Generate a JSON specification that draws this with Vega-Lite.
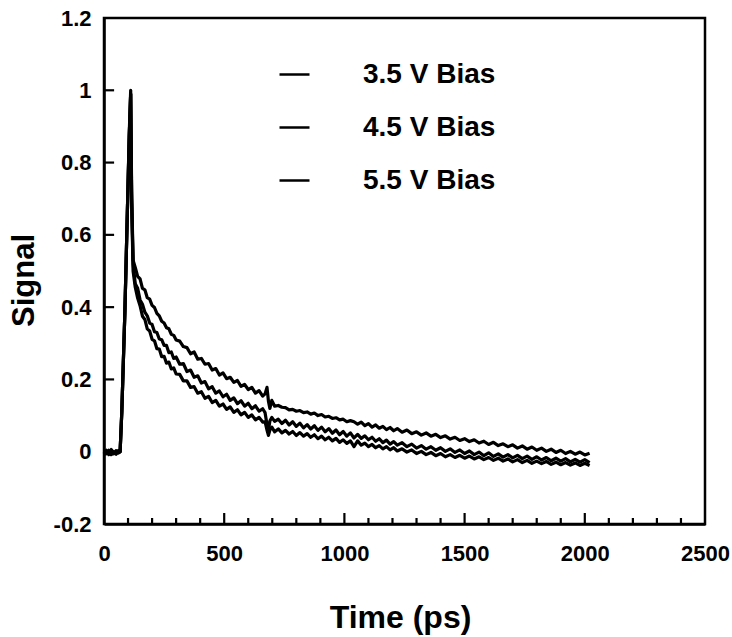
{
  "$schema": "https://vega.github.io/schema/vega-lite/v6.json",
  "width": 601,
  "height": 506,
  "autosize": {"type": "none"},
  "padding": {"left": 104, "top": 18, "right": 27, "bottom": 113},
  "background": "white",
  "config": {
    "font": "Liberation Sans",
    "view": {"stroke": "black", "strokeWidth": 2.5},
    "legend": {"padding": 0}
  },
  "data": {"values": [
    {"t":0,"a":-0.004,"b":-0.008,"c":0.002},
    {"t":10,"a":0.004,"b":0.0,"c":-0.006},
    {"t":20,"a":-0.008,"b":-0.004,"c":0.004},
    {"t":30,"a":0.002,"b":0.006,"c":-0.008},
    {"t":40,"a":-0.006,"b":-0.002,"c":0.0},
    {"t":50,"a":0.003,"b":-0.007,"c":-0.004},
    {"t":60,"a":-0.004,"b":0.002,"c":0.003},
    {"t":67,"a":0.0,"b":0.0,"c":0.0},
    {"t":74,"a":0.11,"b":0.11,"c":0.11},
    {"t":87,"a":0.39,"b":0.39,"c":0.39},
    {"t":97,"a":0.66,"b":0.66,"c":0.66},
    {"t":105,"a":0.88,"b":0.87,"c":0.87},
    {"t":111,"a":1.0,"b":0.99,"c":0.99},
    {"t":115,"a":0.72,"b":0.70,"c":0.69},
    {"t":121,"a":0.53,"b":0.52,"c":0.50},
    {"t":130,"a":0.51,"b":0.465,"c":0.455},
    {"t":140,"a":0.485,"b":0.452,"c":0.425},
    {"t":150,"a":0.478,"b":0.42,"c":0.404},
    {"t":160,"a":0.452,"b":0.408,"c":0.375},
    {"t":170,"a":0.448,"b":0.386,"c":0.366},
    {"t":180,"a":0.426,"b":0.376,"c":0.34},
    {"t":190,"a":0.422,"b":0.356,"c":0.334},
    {"t":200,"a":0.405,"b":0.352,"c":0.311},
    {"t":210,"a":0.399,"b":0.332,"c":0.307},
    {"t":220,"a":0.383,"b":0.33,"c":0.285},
    {"t":230,"a":0.376,"b":0.312,"c":0.284},
    {"t":240,"a":0.361,"b":0.31,"c":0.263},
    {"t":250,"a":0.356,"b":0.294,"c":0.264},
    {"t":260,"a":0.343,"b":0.294,"c":0.245},
    {"t":270,"a":0.34,"b":0.274,"c":0.248},
    {"t":280,"a":0.325,"b":0.276,"c":0.229},
    {"t":290,"a":0.322,"b":0.258,"c":0.232},
    {"t":300,"a":0.309,"b":0.262,"c":0.215},
    {"t":315,"a":0.306,"b":0.242,"c":0.214},
    {"t":330,"a":0.291,"b":0.244,"c":0.196},
    {"t":345,"a":0.288,"b":0.222,"c":0.196},
    {"t":360,"a":0.271,"b":0.226,"c":0.178},
    {"t":375,"a":0.276,"b":0.206,"c":0.18},
    {"t":390,"a":0.256,"b":0.21,"c":0.162},
    {"t":405,"a":0.258,"b":0.19,"c":0.166},
    {"t":420,"a":0.242,"b":0.194,"c":0.148},
    {"t":435,"a":0.244,"b":0.174,"c":0.153},
    {"t":450,"a":0.226,"b":0.18,"c":0.136},
    {"t":465,"a":0.23,"b":0.162,"c":0.142},
    {"t":480,"a":0.212,"b":0.168,"c":0.126},
    {"t":495,"a":0.218,"b":0.152,"c":0.132},
    {"t":510,"a":0.202,"b":0.159,"c":0.117},
    {"t":525,"a":0.206,"b":0.142,"c":0.124},
    {"t":540,"a":0.192,"b":0.149,"c":0.109},
    {"t":555,"a":0.197,"b":0.133,"c":0.116},
    {"t":570,"a":0.181,"b":0.141,"c":0.102},
    {"t":585,"a":0.186,"b":0.126,"c":0.109},
    {"t":600,"a":0.172,"b":0.134,"c":0.095},
    {"t":615,"a":0.178,"b":0.119,"c":0.102},
    {"t":630,"a":0.162,"b":0.127,"c":0.088},
    {"t":645,"a":0.169,"b":0.112,"c":0.095},
    {"t":660,"a":0.154,"b":0.119,"c":0.082},
    {"t":670,"a":0.16,"b":0.108,"c":0.083},
    {"t":678,"a":0.178,"b":0.075,"c":0.06},
    {"t":684,"a":0.14,"b":0.058,"c":0.045},
    {"t":690,"a":0.12,"b":0.085,"c":0.06},
    {"t":698,"a":0.142,"b":0.095,"c":0.068},
    {"t":710,"a":0.126,"b":0.084,"c":0.055},
    {"t":725,"a":0.128,"b":0.09,"c":0.063},
    {"t":740,"a":0.123,"b":0.078,"c":0.052},
    {"t":755,"a":0.122,"b":0.087,"c":0.059},
    {"t":770,"a":0.116,"b":0.074,"c":0.049},
    {"t":785,"a":0.117,"b":0.083,"c":0.056},
    {"t":800,"a":0.112,"b":0.07,"c":0.045},
    {"t":815,"a":0.114,"b":0.079,"c":0.053},
    {"t":830,"a":0.108,"b":0.066,"c":0.043},
    {"t":845,"a":0.11,"b":0.075,"c":0.05},
    {"t":860,"a":0.104,"b":0.063,"c":0.04},
    {"t":875,"a":0.107,"b":0.072,"c":0.047},
    {"t":890,"a":0.1,"b":0.059,"c":0.036},
    {"t":905,"a":0.103,"b":0.068,"c":0.043},
    {"t":920,"a":0.096,"b":0.055,"c":0.033},
    {"t":935,"a":0.098,"b":0.064,"c":0.04},
    {"t":950,"a":0.092,"b":0.051,"c":0.03},
    {"t":965,"a":0.094,"b":0.06,"c":0.037},
    {"t":980,"a":0.088,"b":0.047,"c":0.026},
    {"t":995,"a":0.09,"b":0.056,"c":0.033},
    {"t":1010,"a":0.083,"b":0.043,"c":0.023},
    {"t":1025,"a":0.086,"b":0.052,"c":0.03},
    {"t":1040,"a":0.083,"b":0.038,"c":0.014},
    {"t":1055,"a":0.076,"b":0.048,"c":0.03},
    {"t":1070,"a":0.082,"b":0.037,"c":0.018},
    {"t":1085,"a":0.072,"b":0.044,"c":0.024},
    {"t":1100,"a":0.078,"b":0.033,"c":0.014},
    {"t":1115,"a":0.068,"b":0.04,"c":0.02},
    {"t":1130,"a":0.074,"b":0.029,"c":0.011},
    {"t":1145,"a":0.065,"b":0.036,"c":0.017},
    {"t":1160,"a":0.07,"b":0.025,"c":0.008},
    {"t":1175,"a":0.061,"b":0.032,"c":0.014},
    {"t":1190,"a":0.067,"b":0.021,"c":0.005},
    {"t":1205,"a":0.058,"b":0.028,"c":0.011},
    {"t":1220,"a":0.064,"b":0.018,"c":0.002},
    {"t":1240,"a":0.054,"b":0.025,"c":0.008},
    {"t":1260,"a":0.06,"b":0.014,"c":-0.001},
    {"t":1280,"a":0.05,"b":0.021,"c":0.005},
    {"t":1300,"a":0.055,"b":0.01,"c":-0.005},
    {"t":1320,"a":0.046,"b":0.017,"c":0.001},
    {"t":1340,"a":0.052,"b":0.007,"c":-0.008},
    {"t":1360,"a":0.043,"b":0.014,"c":-0.002},
    {"t":1380,"a":0.048,"b":0.004,"c":-0.011},
    {"t":1400,"a":0.039,"b":0.011,"c":-0.005},
    {"t":1420,"a":0.044,"b":0.001,"c":-0.014},
    {"t":1440,"a":0.035,"b":0.008,"c":-0.008},
    {"t":1460,"a":0.04,"b":-0.002,"c":-0.016},
    {"t":1480,"a":0.031,"b":0.005,"c":-0.01},
    {"t":1500,"a":0.036,"b":-0.005,"c":-0.018},
    {"t":1520,"a":0.028,"b":0.002,"c":-0.012},
    {"t":1540,"a":0.033,"b":-0.008,"c":-0.02},
    {"t":1560,"a":0.024,"b":-0.001,"c":-0.014},
    {"t":1580,"a":0.029,"b":-0.011,"c":-0.022},
    {"t":1600,"a":0.02,"b":-0.003,"c":-0.016},
    {"t":1620,"a":0.026,"b":-0.013,"c":-0.024},
    {"t":1640,"a":0.017,"b":-0.006,"c":-0.018},
    {"t":1660,"a":0.022,"b":-0.015,"c":-0.026},
    {"t":1680,"a":0.014,"b":-0.008,"c":-0.02},
    {"t":1700,"a":0.019,"b":-0.017,"c":-0.028},
    {"t":1720,"a":0.01,"b":-0.01,"c":-0.022},
    {"t":1740,"a":0.016,"b":-0.019,"c":-0.03},
    {"t":1760,"a":0.007,"b":-0.012,"c":-0.024},
    {"t":1780,"a":0.013,"b":-0.021,"c":-0.032},
    {"t":1800,"a":0.004,"b":-0.014,"c":-0.026},
    {"t":1820,"a":0.01,"b":-0.023,"c":-0.033},
    {"t":1840,"a":0.001,"b":-0.016,"c":-0.027},
    {"t":1860,"a":0.007,"b":-0.025,"c":-0.035},
    {"t":1880,"a":-0.002,"b":-0.018,"c":-0.029},
    {"t":1900,"a":0.004,"b":-0.026,"c":-0.036},
    {"t":1920,"a":-0.005,"b":-0.019,"c":-0.03},
    {"t":1940,"a":0.001,"b":-0.028,"c":-0.037},
    {"t":1960,"a":-0.007,"b":-0.021,"c":-0.031},
    {"t":1980,"a":-0.001,"b":-0.029,"c":-0.038},
    {"t":2000,"a":-0.009,"b":-0.022,"c":-0.032},
    {"t":2020,"a":-0.004,"b":-0.03,"c":-0.038}
  ]},
  "layer": [
    {
      "transform": [{"fold": ["a", "b", "c"], "as": ["k", "v"]}],
      "mark": {"type": "line", "strokeWidth": 3.2, "strokeJoin": "round"},
      "encoding": {
        "x": {
          "field": "t", "type": "quantitative",
          "scale": {"domain": [0, 2500], "nice": false, "zero": false},
          "axis": {
            "orient": "bottom", "grid": false, "ticks": false,
            "domainColor": "black", "domainWidth": 2.5,
            "title": "Time (ps)", "titleFont": "Liberation Sans", "titleFontWeight": "bold", "titleColor": "black",
            "titleFontSize": 32, "titleBaseline": "alphabetic", "titleY": 103, "titleX": 296,
            "values": [0, 500, 1000, 1500, 2000, 2500],
            "labelExpr": "format(datum.value, 'd')",
            "labelFont": "Liberation Sans", "labelFontWeight": "bold", "labelColor": "black",
            "labelFontSize": 22, "labelPadding": 19, "labelFlush": false, "labelOverlap": false
          }
        },
        "y": {
          "field": "v", "type": "quantitative",
          "scale": {"domain": [-0.2, 1.2], "nice": false, "zero": false},
          "axis": {
            "orient": "left", "grid": false, "ticks": false,
            "domainColor": "black", "domainWidth": 2.5,
            "title": "Signal", "titleFont": "Liberation Sans", "titleFontWeight": "bold", "titleColor": "black",
            "titleFontSize": 31, "titleBaseline": "alphabetic", "titleX": -71, "titleY": 262, "titleAngle": -90,
            "values": [-0.2, 0, 0.2, 0.4, 0.6, 0.8, 1, 1.2],
            "labelExpr": "replace(format(datum.value, '.1~f'), '\u2212', '-')",
            "labelFont": "Liberation Sans", "labelFontWeight": "bold", "labelColor": "black",
            "labelFontSize": 22, "labelPadding": 13, "labelOverlap": false
          }
        },
        "color": {
          "field": "k", "type": "nominal",
          "scale": {"domain": ["a", "b", "c"], "range": ["black", "black", "black"]},
          "legend": {
            "title": null, "orient": "none", "legendX": 174, "legendY": 40,
            "symbolType": "stroke", "symbolSize": 900, "symbolStrokeWidth": 2.5, "symbolStrokeColor": "black",
            "labelExpr": "datum.label === 'a' ? '3.5 V Bias' : datum.label === 'b' ? '4.5 V Bias' : '5.5 V Bias'",
            "labelFont": "Liberation Sans", "labelFontWeight": "bold", "labelFontSize": 28, "labelColor": "black",
            "labelOffset": 52, "rowPadding": 22
          }
        }
      }
    },
    {
      "data": {"values": [{"t": 500}, {"t": 1000}, {"t": 1500}, {"t": 2000}]},
      "mark": {"type": "rule", "color": "black", "strokeWidth": 2.2},
      "encoding": {
        "x": {"field": "t", "type": "quantitative", "scale": {"domain": [0, 2500], "nice": false, "zero": false}},
        "y": {"datum": -0.2},
        "y2": {"datum": -0.1696}
      }
    },
    {
      "data": {"values": [{"t": 100}, {"t": 200}, {"t": 300}, {"t": 400}, {"t": 600}, {"t": 700}, {"t": 800}, {"t": 900}, {"t": 1100}, {"t": 1200}, {"t": 1300}, {"t": 1400}, {"t": 1600}, {"t": 1700}, {"t": 1800}, {"t": 1900}, {"t": 2100}, {"t": 2200}, {"t": 2300}, {"t": 2400}]},
      "mark": {"type": "rule", "color": "black", "strokeWidth": 2.2},
      "encoding": {
        "x": {"field": "t", "type": "quantitative", "scale": {"domain": [0, 2500], "nice": false, "zero": false}},
        "y": {"datum": -0.2},
        "y2": {"datum": -0.1834}
      }
    },
    {
      "data": {"values": [{"v": 0}, {"v": 0.2}, {"v": 0.4}, {"v": 0.6}, {"v": 0.8}, {"v": 1}]},
      "mark": {"type": "rule", "color": "black", "strokeWidth": 2.2},
      "encoding": {
        "y": {"field": "v", "type": "quantitative", "scale": {"domain": [-0.2, 1.2], "nice": false, "zero": false}},
        "x": {"datum": 0},
        "x2": {"datum": 42}
      }
    }
  ]
}
